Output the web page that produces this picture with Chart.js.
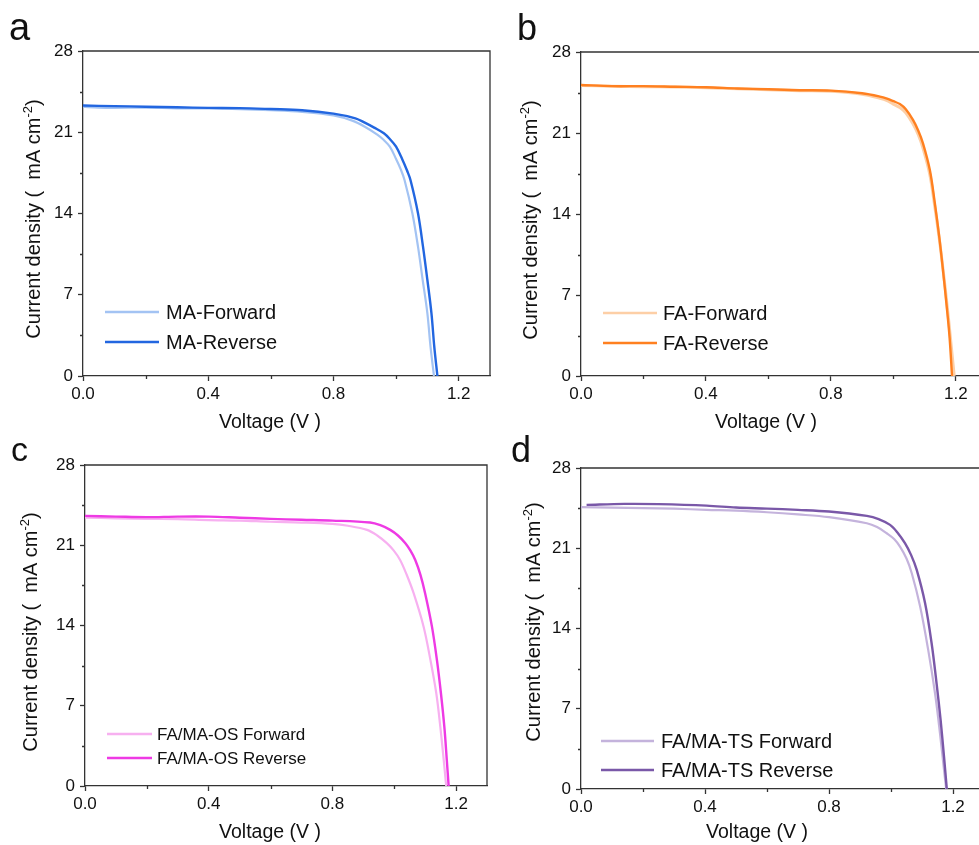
<!DOCTYPE html>
<html>
<head>
<meta charset="utf-8">
<title>J-V curves</title>
<script src="https://cdn.jsdelivr.net/npm/chart.js@4.4.1/dist/chart.umd.min.js"></script>
<style>
    html, body { margin: 0; padding: 0; background: #fff; overflow: hidden; }
    #page { position: relative; width: 979px; height: 845px; overflow: hidden; }
    #page canvas { position: absolute; }
</style>
</head>
<body>
<div id="page">
    <canvas id="panelA" width="500" height="440" style="left:0;top:0"></canvas>
    <canvas id="panelB" width="500" height="440" style="left:490px;top:0"></canvas>
    <canvas id="panelC" width="500" height="440" style="left:0;top:410px"></canvas>
    <canvas id="panelD" width="500" height="440" style="left:490px;top:410px"></canvas>
</div>
<script>
// axis ticks
var voltageTicks = [0, 0.4, 0.8, 1.2];
var voltageMinor = [0.2, 0.6, 1.0];
var currentTicks = [0, 7, 14, 21, 28];
var currentMinor = [3.5, 10.5, 17.5, 24.5];

// a: MA
var maFwdV = [0, 0.05, 0.1, 0.2, 0.3, 0.4, 0.5, 0.6, 0.7, 0.8, 0.86, 0.9, 0.94, 0.96, 0.98, 1.0, 1.015, 1.027, 1.052, 1.07, 1.085, 1.1, 1.11, 1.121];
var maFwdJ = [23.2, 23.12, 23.1, 23.12, 23.06, 23.05, 23.0, 22.9, 22.75, 22.45, 22.0, 21.48, 20.8, 20.35, 19.76, 18.7, 17.8, 16.89, 14.02, 11.14, 8.27, 5.4, 2.53, 0];
var maRevV = [0, 0.1, 0.2, 0.3, 0.4, 0.5, 0.6, 0.7, 0.8, 0.87, 0.9, 0.93, 0.961, 0.98, 1.0, 1.02, 1.035, 1.046, 1.07, 1.086, 1.1, 1.113, 1.122, 1.132];
var maRevJ = [23.3, 23.25, 23.2, 23.15, 23.1, 23.08, 23.0, 22.9, 22.6, 22.2, 21.83, 21.4, 20.91, 20.42, 19.76, 18.65, 17.7, 16.89, 14.02, 11.14, 8.27, 5.4, 2.53, 0];

// b: FA
var faFwdV = [0, 0.1, 0.2, 0.3, 0.4, 0.5, 0.6, 0.7, 0.8, 0.9, 0.957, 0.98, 1.0, 1.021, 1.04, 1.063, 1.08, 1.095, 1.117, 1.133, 1.148, 1.161, 1.173, 1.184, 1.195];
var faFwdJ = [25.1, 25.05, 25.0, 24.98, 24.92, 24.82, 24.74, 24.66, 24.6, 24.35, 24.0, 23.8, 23.5, 23.2, 22.75, 21.8, 20.85, 19.7, 17.4, 14.6, 11.7, 8.8, 5.9, 3.0, 0];
var faRevV = [0, 0.1, 0.2, 0.3, 0.4, 0.5, 0.6, 0.7, 0.8, 0.9, 0.957, 0.98, 1.0, 1.021, 1.04, 1.063, 1.08, 1.095, 1.117, 1.133, 1.147, 1.159, 1.17, 1.18, 1.188];
var faRevJ = [25.15, 25.05, 25.05, 25.0, 24.95, 24.85, 24.78, 24.7, 24.66, 24.43, 24.15, 23.97, 23.75, 23.5, 23.05, 22.13, 21.2, 20.11, 17.8, 14.93, 12.04, 9.16, 6.28, 3.4, 0];

// c: FA/MA-OS
var osFwdV = [0, 0.1, 0.2, 0.3, 0.4, 0.5, 0.6, 0.7, 0.8, 0.85, 0.912, 0.945, 0.976, 0.998, 1.019, 1.04, 1.063, 1.095, 1.117, 1.136, 1.149, 1.16, 1.168];
var osFwdJ = [23.41, 23.35, 23.3, 23.28, 23.2, 23.15, 23.05, 22.98, 22.86, 22.7, 22.34, 21.85, 21.18, 20.55, 19.72, 18.45, 16.8, 13.9, 11.0, 8.09, 5.17, 2.27, 0];
var osRevV = [0, 0.1, 0.2, 0.3, 0.4, 0.5, 0.6, 0.7, 0.8, 0.922, 0.955, 0.987, 1.012, 1.036, 1.052, 1.068, 1.085, 1.1, 1.122, 1.138, 1.151, 1.162, 1.17, 1.176];
var osRevJ = [23.56, 23.5, 23.45, 23.5, 23.5, 23.4, 23.3, 23.22, 23.15, 22.98, 22.75, 22.34, 21.85, 21.18, 20.55, 19.72, 18.4, 16.8, 13.9, 11.0, 8.09, 5.17, 2.27, 0];

// d: FA/MA-TS
var tsFwdV = [0, 0.1, 0.2, 0.3, 0.405, 0.5, 0.6, 0.7, 0.8, 0.922, 0.955, 0.986, 1.01, 1.029, 1.05, 1.067, 1.094, 1.12, 1.142, 1.158, 1.171, 1.178];
var tsFwdJ = [24.58, 24.55, 24.5, 24.45, 24.35, 24.28, 24.14, 23.95, 23.71, 23.18, 22.85, 22.31, 21.8, 21.14, 20.1, 18.82, 15.91, 12.13, 8.35, 4.86, 1.66, 0];
var tsRevV = [0.018, 0.14, 0.25, 0.405, 0.5, 0.6, 0.7, 0.8, 0.922, 0.96, 0.997, 1.02, 1.045, 1.065, 1.083, 1.11, 1.131, 1.147, 1.16, 1.171, 1.18];
var tsRevJ = [24.78, 24.87, 24.85, 24.72, 24.55, 24.46, 24.35, 24.2, 23.82, 23.55, 23.04, 22.4, 21.44, 20.4, 19.11, 16.2, 12.71, 9.22, 6.02, 2.82, 0];

var FONT = '"Liberation Sans", Arial, sans-serif';
var INK = '#111';
var AXIS = '#333';

function points(xs, ys) {
    return xs.map(function(x, i) { return {x: x, y: ys[i]}; });
}

function series(label, xs, ys, color, width, order) {
    return {
        label: label,
        data: points(xs, ys),
        borderColor: color,
        backgroundColor: color,
        borderWidth: width,
        borderJoinStyle: 'round',
        pointRadius: 0,
        fill: false,
        tension: 0.35,
        order: order
    };
}

/**
 * Draws frame, minor ticks, legend, axis titles and the panel letter
 */
var panelDecor = {
    id: 'panelDecor',
    afterDraw: function(chart) {
        var o = chart.options.plugins.panelDecor;
        var ctx = chart.ctx;
        var area = chart.chartArea;
        var xs = chart.scales.x, ys = chart.scales.y;

        ctx.save();
        // top and right edges of the box
        ctx.strokeStyle = AXIS;
        ctx.lineWidth = 1.3;
        ctx.beginPath();
        ctx.moveTo(area.left, area.top);
        ctx.lineTo(area.right, area.top);
        ctx.lineTo(area.right, area.bottom);
        ctx.stroke();

        // minor ticks
        ctx.beginPath();
        voltageMinor.forEach(function(v) {
            var px = Math.round(xs.getPixelForValue(v)) + 0.5;
            ctx.moveTo(px, area.bottom);
            ctx.lineTo(px, area.bottom + 3);
        });
        currentMinor.forEach(function(v) {
            var py = Math.round(ys.getPixelForValue(v)) + 0.5;
            ctx.moveTo(area.left, py);
            ctx.lineTo(area.left - 3, py);
        });
        ctx.stroke();

        // legend
        ctx.textBaseline = 'middle';
        ctx.textAlign = 'left';
        ctx.font = o.legendFont + 'px ' + FONT;
        chart.data.datasets.forEach(function(ds, i) {
            var ly = o.legend.rows[i];
            ctx.strokeStyle = ds.borderColor;
            ctx.lineWidth = 2.6;
            ctx.beginPath();
            ctx.moveTo(o.legend.x0, ly);
            ctx.lineTo(o.legend.x1, ly);
            ctx.stroke();
            ctx.fillStyle = INK;
            ctx.fillText(ds.label, o.legend.tx, ly + 1);
        });

        // y title with superscript
        ctx.save();
        ctx.translate(o.yTitle[0], o.yTitle[1]);
        ctx.rotate(-Math.PI / 2);
        ctx.textBaseline = 'alphabetic';
        var main = 'Current density (  mA cm';
        ctx.font = '20px ' + FONT;
        var w1 = ctx.measureText(main).width;
        var w3 = ctx.measureText(')').width;
        ctx.font = '13px ' + FONT;
        var w2 = ctx.measureText('-2').width;
        var start = -(w1 + w2 + w3) / 2;
        ctx.fillStyle = INK;
        ctx.font = '20px ' + FONT;
        ctx.fillText(main, start, 7);
        ctx.fillText(')', start + w1 + w2, 7);
        ctx.font = '13px ' + FONT;
        ctx.fillText('-2', start + w1, -1);
        ctx.restore();

        // x title
        ctx.font = '19.5px ' + FONT;
        ctx.textAlign = 'center';
        ctx.textBaseline = 'middle';
        ctx.fillStyle = INK;
        ctx.fillText('Voltage (V )', o.xTitle[0], o.xTitle[1]);

        // panel letter
        ctx.font = o.letterSize + 'px ' + FONT;
        ctx.textAlign = 'left';
        ctx.textBaseline = 'alphabetic';
        ctx.fillText(o.letter, o.letterPos[0], o.letterPos[1]);
        ctx.restore();
    }
};

function makePanel(id, datasets, lay) {
    var ctx = document.getElementById(id);
    return new Chart(ctx, {
        type: 'line',
        data: {datasets: datasets},
        plugins: [panelDecor],
        options: {
            responsive: false,
            animation: false,
            layout: {padding: {top: lay.top, right: lay.right, left: 0, bottom: 0}},
            plugins: {
                legend: {display: false},
                tooltip: {enabled: false},
                panelDecor: lay
            },
            scales: {
                x: {
                    type: 'linear',
                    min: 0,
                    max: 1.3,
                    afterFit: function(s) { s.height = lay.xHeight; },
                    afterBuildTicks: function(s) {
                        s.ticks = voltageTicks.map(function(v) { return {value: v}; });
                    },
                    border: {display: true, color: AXIS, width: 1.3},
                    grid: {drawOnChartArea: false, drawTicks: true, tickLength: 5, tickColor: AXIS, tickWidth: 1.3},
                    ticks: {
                        color: INK,
                        font: {family: FONT, size: 17},
                        padding: 3,
                        maxRotation: 0,
                        callback: function(v) { return v.toFixed(1); }
                    }
                },
                y: {
                    type: 'linear',
                    min: 0,
                    max: 28,
                    afterFit: function(s) { s.width = lay.yWidth; },
                    afterBuildTicks: function(s) {
                        s.ticks = currentTicks.map(function(v) { return {value: v}; });
                    },
                    border: {display: true, color: AXIS, width: 1.3},
                    grid: {drawOnChartArea: false, drawTicks: true, tickLength: 5, tickColor: AXIS, tickWidth: 1.3},
                    ticks: {
                        color: INK,
                        font: {family: FONT, size: 17},
                        padding: 5,
                        callback: function(v) { return String(v); }
                    }
                }
            }
        }
    });
}

makePanel('panelA', [
    series('MA-Forward', maFwdV, maFwdJ, '#a3c3f3', 2.2, 1),
    series('MA-Reverse', maRevV, maRevJ, '#2266e0', 2.4, 0)
], {
    top: 51, right: 10, yWidth: 83, xHeight: 64,
    letter: 'a', letterSize: 38, letterPos: [9, 40],
    yTitle: [33, 219], xTitle: [270, 423],
    legendFont: 20, legend: {x0: 105, x1: 159, tx: 166, rows: [312, 342]}
});

makePanel('panelB', [
    series('FA-Forward', faFwdV, faFwdJ, '#fdcfa6', 3, 1),
    series('FA-Reverse', faRevV, faRevJ, '#ff8020', 2.4, 0)
], {
    top: 52, right: 3, yWidth: 91, xHeight: 64,
    letter: 'b', letterSize: 36, letterPos: [27, 40],
    yTitle: [40, 220], xTitle: [276, 423],
    legendFont: 20, legend: {x0: 113, x1: 167, tx: 173, rows: [313, 343]}
});

makePanel('panelC', [
    series('FA/MA-OS Forward', osFwdV, osFwdJ, '#f7b0f0', 2.2, 1),
    series('FA/MA-OS Reverse', osRevV, osRevJ, '#ee3ae4', 2.4, 0)
], {
    top: 55, right: 13, yWidth: 85, xHeight: 64,
    letter: 'c', letterSize: 34, letterPos: [11, 51],
    yTitle: [30, 222], xTitle: [270, 423],
    legendFont: 17, legend: {x0: 107, x1: 152, tx: 157, rows: [324, 348]}
});

makePanel('panelD', [
    series('FA/MA-TS Forward', tsFwdV, tsFwdJ, '#c4b3dc', 2.2, 1),
    series('FA/MA-TS Reverse', tsRevV, tsRevJ, '#7a58a8', 2.4, 0)
], {
    top: 58, right: 6, yWidth: 91, xHeight: 61,
    letter: 'd', letterSize: 36, letterPos: [21, 52],
    yTitle: [43, 212], xTitle: [267, 423],
    legendFont: 20, legend: {x0: 111, x1: 164, tx: 171, rows: [331, 360]}
});
</script>
</body>
</html>
